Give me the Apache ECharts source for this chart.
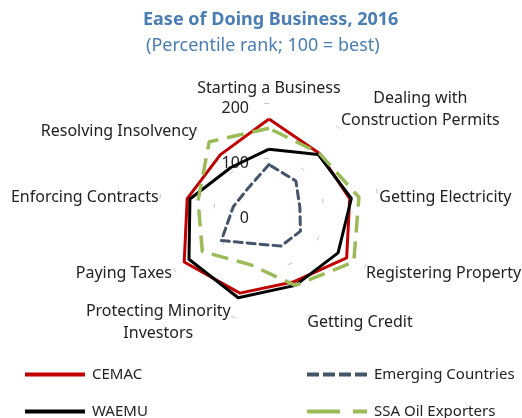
<!DOCTYPE html>
<html>
<head>
<meta charset="utf-8">
<script src="https://cdn.jsdelivr.net/npm/echarts@6/dist/echarts.min.js"></script>
<style>
  html, body { margin: 0; padding: 0; background: #fff; }
  #chart { width: 522px; height: 418px; }
</style>
</head>
<body>
<div id="chart"></div>
<script>
// indicators, clockwise from the top
const indicators = [
  'Starting a Business',
  'Dealing with\nConstruction Permits',
  'Getting Electricity',
  'Registering Property',
  'Getting Credit',
  'Protecting Minority\nInvestors',
  'Paying Taxes',
  'Enforcing Contracts',
  'Resolving Insolvency'
]
const seriesNames = ['CEMAC', 'WAEMU', 'Emerging Countries', 'SSA Oil Exporters']
const cemac = [171, 142, 149, 163, 133, 155, 178, 151, 138]
const waemu = [116, 139, 152, 145, 140, 164, 168, 146, 108]
const emerging = [88, 76, 57, 66, 64, 60, 100, 66, 59]
const ssaOil = [154, 142, 166, 178, 140, 100, 140, 131, 169]
const axisMax = 200
const axisTicks = [100, 200]

const font = 'Noto Sans'
const textColor = '#222'
const blue = '#4a7db3'

// echarts 雷达图按逆时针排列，这里换成顺时针
const clockwise = (arr) => [arr[0]].concat(arr.slice(1).reverse())

const chart = echarts.init(document.getElementById('chart'))

// 图例：每项单独放置
const legendIcons = {
  solid: 'path://M0,0h60v4h-60z',
  dash: 'path://M0,0h12v4h-12zM16,0h12v4h-12zM32,0h12v4h-12zM48,0h12v4h-12z',
  longDash: 'path://M0,0h33v4h-33zM46,0h14v4h-14z'
}
const legendPos = [
  { left: 25, top: 367, icon: legendIcons.solid },
  { left: 25, top: 404, icon: legendIcons.solid },
  { left: 307, top: 367, icon: legendIcons.dash },
  { left: 307, top: 404, icon: legendIcons.longDash }
]

const option = {
  animation: false,
  title: [
    {
      text: 'Ease of Doing Business, 2016',
      left: 138, top: 6,
      textStyle: { fontFamily: font, fontSize: 18, fontWeight: 'bold', color: blue }
    },
    {
      text: '(Percentile rank; 100 = best)',
      left: 141, top: 32,
      textStyle: { fontFamily: font, fontSize: 18, fontWeight: 'normal', color: blue }
    }
  ],
  legend: legendPos.map((p, i) => ({
    data: [seriesNames[i]],
    left: p.left,
    top: p.top,
    padding: 0,
    icon: p.icon,
    itemWidth: 60,
    itemHeight: 4,
    textStyle: { fontFamily: font, fontSize: 15, color: textColor, padding: [0, 0, 0, 2] },
    selectedMode: false
  })),
  radar: {
    center: [269, 213],
    radius: 110,
    startAngle: 90,
    splitNumber: 2,
    shape: 'polygon',
    nameGap: 2,
    axisName: {
      fontFamily: font,
      fontSize: 16,
      color: textColor,
      padding: [10, 0, 2, 0],
      formatter: (name) => {
        const lines = name.split('\n').map((l) => '{c|' + l + '}')
        // 两行标签往上抬
        if (name.startsWith('Dealing')) lines.push('{e| }', '{e| }')
        return lines.join('\n')
      },
      rich: {
        c: { fontFamily: font, fontSize: 16, color: textColor, align: 'center', lineHeight: 22 },
        e: { fontFamily: font, fontSize: 16, lineHeight: 22 }
      }
    },
    axisLine: { show: false },
    axisTick: {
      show: true, length: 5, customValues: axisTicks,
      lineStyle: { color: '#c8c8c8', width: 1 }
    },
    axisLabel: { show: false },
    splitLine: { show: false },
    splitArea: { show: false },
    indicator: clockwise(indicators.map((name, i) => {
      const ind = { name: name, min: 0, max: axisMax }
      if (i === 0) {
        ind.axisLabel = {
          show: true, fontFamily: font, fontSize: 16, color: textColor,
          margin: 20, verticalAlign: 'top', lineHeight: 10
        }
      }
      return ind
    }))
  },
  series: [
    {
      type: 'radar',
      symbol: 'none',
      data: [
        { name: seriesNames[0], value: clockwise(cemac),
          itemStyle: { color: '#c00000' },
          lineStyle: { color: '#c00000', width: 3 } },
        { name: seriesNames[1], value: clockwise(waemu),
          itemStyle: { color: '#000000' },
          lineStyle: { color: '#000000', width: 3 } },
        { name: seriesNames[2], value: clockwise(emerging),
          itemStyle: { color: '#44546a' },
          lineStyle: { color: '#44546a', width: 3, type: [8, 5], cap: 'round' } },
        { name: seriesNames[3], value: clockwise(ssaOil),
          itemStyle: { color: '#9bbb59' },
          lineStyle: { color: '#9bbb59', width: 3.5, type: [17, 9] } }
      ]
    }
  ]
}

chart.setOption(option)
</script>
</body>
</html>
